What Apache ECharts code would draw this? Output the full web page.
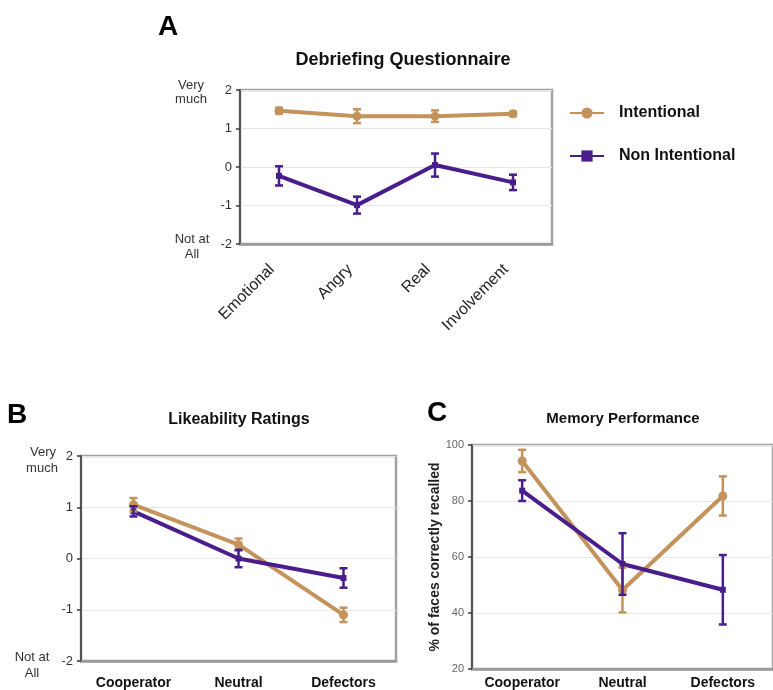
<!DOCTYPE html>
<html><head><meta charset="utf-8">
<script src="https://cdn.jsdelivr.net/npm/echarts@6/dist/echarts.min.js"></script>
<style>html,body{margin:0;padding:0;background:#fff}#c{width:773px;height:690px}</style>
</head><body><div id="c"></div>
<script>
// Panel A: Debriefing Questionnaire
const catsA = ['Emotional', 'Angry', 'Real', 'Involvement'];
const intA = [1.46, 1.32, 1.32, 1.38];
const intAErr = [0.08, 0.18, 0.15, 0.06];
const nonA = [-0.23, -0.99, 0.05, -0.40];
const nonAErr = [0.25, 0.22, 0.30, 0.20];
// Panel B: Likeability Ratings
const catsB = ['Cooperator', 'Neutral', 'Defectors'];
const intB = [1.05, 0.27, -1.10];
const intBErr = [0.13, 0.12, 0.14];
const nonB = [0.92, 0.00, -0.38];
const nonBErr = [0.10, 0.17, 0.19];
// Panel C: Memory Performance
const catsC = ['Cooperator', 'Neutral', 'Defectors'];
const intC = [94.3, 48.2, 81.8];
const intCErr = [4.0, 8.0, 7.0];
const nonC = [83.7, 57.5, 48.3];
const nonCErr = [3.7, 11.0, 12.4];

const TAN = '#C4935C';
const PUR = '#4A1D8C';
const FONT = 'Liberation Sans, Arial, sans-serif';

function errData(vals, errs) {
  return vals.map((v, i) => [i, v - errs[i], v + errs[i]]);
}
function errSeries(name, vals, errs, color, idx) {
  return {
    type: 'custom', name: name, xAxisIndex: idx, yAxisIndex: idx, z: 4,
    data: errData(vals, errs),
    renderItem: function (params, api) {
      const x = api.value(0);
      const lo = api.coord([x, api.value(1)]);
      const hi = api.coord([x, api.value(2)]);
      const w = 4;
      const st = { stroke: color, lineWidth: 2.5 };
      return { type: 'group', children: [
        { type: 'line', shape: { x1: lo[0], y1: lo[1], x2: hi[0], y2: hi[1] }, style: st },
        { type: 'line', shape: { x1: lo[0] - w, y1: lo[1], x2: lo[0] + w, y2: lo[1] }, style: st },
        { type: 'line', shape: { x1: hi[0] - w, y1: hi[1], x2: hi[0] + w, y2: hi[1] }, style: st }
      ]};
    }
  };
}
function lineSeries(name, vals, color, idx, symbol, size) {
  return {
    type: 'line', name: name, xAxisIndex: idx, yAxisIndex: idx, data: vals, z: 3,
    symbol: symbol, symbolSize: size, showSymbol: true,
    lineStyle: { color: color, width: 4 },
    itemStyle: { color: color },
    emphasis: { disabled: true }
  };
}
const gridStyle = { show: true, borderColor: '#a3a3a3', borderWidth: 2.5, backgroundColor: '#fff' };
function yAx(idx, min, max, interval, fs, col) {
  return {
    type: 'value', gridIndex: idx, min: min, max: max, interval: interval,
    axisLine: { show: true, lineStyle: { color: '#3a3a3a', width: 1.5 } },
    axisTick: { show: true, length: 4, lineStyle: { color: '#3a3a3a', width: 1.5 } },
    axisLabel: { fontFamily: FONT, fontSize: fs, color: col, margin: 8 },
    splitLine: { show: true, lineStyle: { color: '#e6e6e6', width: 1 } }
  };
}
function xAx(idx, cats, label) {
  return {
    type: 'category', gridIndex: idx, data: cats, boundaryGap: true,
    axisLine: { show: true, onZero: false, lineStyle: { color: '#999', width: 2.5 } },
    axisTick: { show: false },
    axisLabel: label,
    splitLine: { show: false }
  };
}
function txt(t, x, y, font, color, align) {
  return { type: 'text', x: x, y: y, z: 10,
    style: { text: t, font: font, fill: color || '#111', textAlign: align || 'center', textVerticalAlign: 'middle' } };
}

const chart = echarts.init(document.getElementById('c'), null, { renderer: 'canvas' });
chart.setOption({
  animation: false,
  backgroundColor: '#fff',
  grid: [
    Object.assign({ left: 240, top: 90, width: 312, height: 154 }, gridStyle),
    Object.assign({ left: 81, top: 456, width: 315, height: 206 }, gridStyle),
    Object.assign({ left: 472, top: 445, width: 303, height: 225 }, gridStyle)
  ],
  xAxis: [
    xAx(0, catsA, { rotate: 45, fontFamily: FONT, fontSize: 16, color: '#222', margin: 16, padding: [0, 10, 0, 0], interval: 0 }),
    xAx(1, catsB, { fontFamily: FONT, fontSize: 14, fontWeight: 'bold', color: '#111', margin: 15, interval: 0 }),
    xAx(2, catsC, { fontFamily: FONT, fontSize: 14, fontWeight: 'bold', color: '#111', margin: 7, interval: 0 })
  ],
  yAxis: [
    yAx(0, -2, 2, 1, 13, '#333'),
    yAx(1, -2, 2, 1, 13, '#333'),
    Object.assign(yAx(2, 20, 100, 20, 11, '#666'), {
      name: '% of faces correctly recalled', nameLocation: 'middle', nameGap: 28,
      nameTextStyle: { fontFamily: FONT, fontSize: 14, fontWeight: 'bold', color: '#222' }
    })
  ],
  legend: {
    data: ['Intentional', 'Non Intentional'], orient: 'vertical', left: 564, top: 100,
    itemGap: 27, itemWidth: 34, itemHeight: 14, selectedMode: false,
    textStyle: { fontFamily: FONT, fontSize: 16, fontWeight: 'bold', color: '#111', padding: [0, 0, 0, 10] }
  },
  series: [
    lineSeries('Intentional', intA, TAN, 0, 'circle', 9),
    lineSeries('Non Intentional', nonA, PUR, 0, 'rect', 6),
    errSeries('Intentional', intA, intAErr, TAN, 0),
    errSeries('Non Intentional', nonA, nonAErr, PUR, 0),
    lineSeries('Intentional', intB, TAN, 1, 'circle', 9),
    lineSeries('Non Intentional', nonB, PUR, 1, 'rect', 6),
    errSeries('Intentional', intB, intBErr, TAN, 1),
    errSeries('Non Intentional', nonB, nonBErr, PUR, 1),
    lineSeries('Intentional', intC, TAN, 2, 'circle', 9),
    lineSeries('Non Intentional', nonC, PUR, 2, 'rect', 6),
    errSeries('Intentional', intC, intCErr, TAN, 2),
    errSeries('Non Intentional', nonC, nonCErr, PUR, 2)
  ],
  graphic: [
    txt('A', 168, 27, 'bold 28px ' + FONT, '#000'),
    txt('Debriefing Questionnaire', 403, 60, 'bold 18px ' + FONT, '#111'),
    txt('Very', 191, 85, '13px ' + FONT, '#333'),
    txt('much', 191, 99, '13px ' + FONT, '#333'),
    txt('Not at', 192, 239, '13px ' + FONT, '#333'),
    txt('All', 192, 254, '13px ' + FONT, '#333'),
    txt('B', 17, 415, 'bold 28px ' + FONT, '#000'),
    txt('Likeability Ratings', 239, 420, 'bold 16px ' + FONT, '#111'),
    txt('Very', 43, 452, '13px ' + FONT, '#333'),
    txt('much', 42, 468, '13px ' + FONT, '#333'),
    txt('Not at', 32, 657, '13px ' + FONT, '#333'),
    txt('All', 32, 673, '13px ' + FONT, '#333'),
    txt('C', 437, 413, 'bold 28px ' + FONT, '#000'),
    txt('Memory Performance', 623, 419, 'bold 15px ' + FONT, '#111')
  ]
});
</script></body></html>
